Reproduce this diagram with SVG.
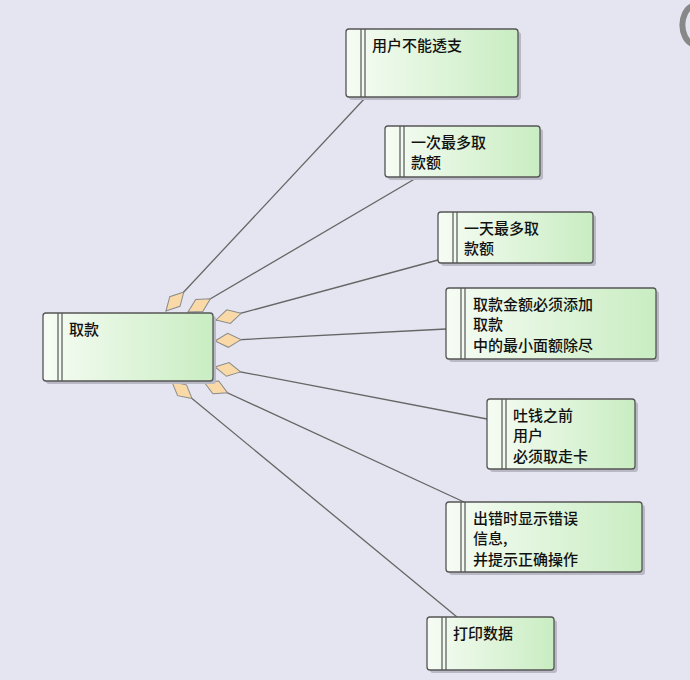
<svg xmlns="http://www.w3.org/2000/svg" width="690" height="680" viewBox="0 0 690 680">
<defs>
<linearGradient id="g" x1="0" y1="0" x2="1" y2="0"><stop offset="0" stop-color="#f6fcf4"/><stop offset="1" stop-color="#c9edc2"/></linearGradient>
<polygon id="dia" points="0,0 13,-7 26,0 13,7" fill="#f9d9a8" stroke="#8a8a8a" stroke-width="1"/>
</defs>
<style>
.b{fill:url(#g);stroke:#555;stroke-width:1.3}
.s{fill:#b8b9c4}
.v{stroke:#555;stroke-width:1.2}
.t{font-family:"Noto Sans CJK SC","Liberation Sans",sans-serif;font-size:15px;font-weight:500;fill:#111}
.c{stroke:#666;stroke-width:1.3;fill:none}
</style>
<rect width="690" height="680" fill="#e4e5f0"/>
<path d="M692,6 A14,20 0 0 0 692,44" fill="none" stroke="#888" stroke-width="6"/>
<g id="connectors">
<line class="c" x1="166" y1="311" x2="366" y2="97"/>
<line class="c" x1="188" y1="312" x2="418" y2="177"/>
<line class="c" x1="216" y1="320" x2="438" y2="260"/>
<line class="c" x1="215" y1="341" x2="446" y2="329"/>
<line class="c" x1="215" y1="367" x2="487" y2="419"/>
<line class="c" x1="204" y1="382" x2="464" y2="502"/>
<line class="c" x1="172" y1="382" x2="457" y2="617"/>
<use href="#dia" transform="translate(166,311) rotate(-46.9)"/>
<use href="#dia" transform="translate(188,312) rotate(-30.4)"/>
<use href="#dia" transform="translate(216,320) rotate(-15)"/>
<use href="#dia" transform="translate(215,341) rotate(-3)"/>
<use href="#dia" transform="translate(215,367) rotate(10.8)"/>
<use href="#dia" transform="translate(204,382) rotate(24.7)"/>
<use href="#dia" transform="translate(172,382) rotate(39.5)"/>
</g>
<g id="n0"><rect class="s" x="46" y="316" width="170" height="68" rx="3"/><rect class="b" x="43" y="313" width="170" height="68" rx="3"/><line class="v" x1="58" y1="313" x2="58" y2="381"/><line class="v" x1="62" y1="313" x2="62" y2="381"/><text class="t" x="69" y="335">取款</text></g>
<g id="n1"><rect class="s" x="349" y="32" width="172" height="68" rx="3"/><rect class="b" x="346" y="29" width="172" height="68" rx="3"/><line class="v" x1="361" y1="29" x2="361" y2="97"/><line class="v" x1="365" y1="29" x2="365" y2="97"/><text class="t" x="372" y="51">用户不能透支</text></g>
<g id="n2"><rect class="s" x="388" y="129" width="155" height="51" rx="3"/><rect class="b" x="385" y="126" width="155" height="51" rx="3"/><line class="v" x1="400" y1="126" x2="400" y2="177"/><line class="v" x1="404" y1="126" x2="404" y2="177"/><text class="t" x="411" y="148">一次最多取</text><text class="t" x="411" y="168">款额</text></g>
<g id="n3"><rect class="s" x="441" y="215" width="155" height="51" rx="3"/><rect class="b" x="438" y="212" width="155" height="51" rx="3"/><line class="v" x1="453" y1="212" x2="453" y2="263"/><line class="v" x1="457" y1="212" x2="457" y2="263"/><text class="t" x="464" y="234">一天最多取</text><text class="t" x="464" y="254">款额</text></g>
<g id="n4"><rect class="s" x="449" y="291" width="210" height="71" rx="3"/><rect class="b" x="446" y="288" width="210" height="71" rx="3"/><line class="v" x1="461" y1="288" x2="461" y2="359"/><line class="v" x1="465" y1="288" x2="465" y2="359"/><text class="t" x="473" y="310">取款金额必须添加</text><text class="t" x="473" y="330">取款</text><text class="t" x="473" y="351">中的最小面额除尽</text></g>
<g id="n5"><rect class="s" x="490" y="402" width="148" height="70" rx="3"/><rect class="b" x="487" y="399" width="148" height="70" rx="3"/><line class="v" x1="502" y1="399" x2="502" y2="469"/><line class="v" x1="506" y1="399" x2="506" y2="469"/><text class="t" x="513" y="421">吐钱之前</text><text class="t" x="513" y="441">用户</text><text class="t" x="513" y="462">必须取走卡</text></g>
<g id="n6"><rect class="s" x="449" y="505" width="196" height="70" rx="3"/><rect class="b" x="446" y="502" width="196" height="70" rx="3"/><line class="v" x1="461" y1="502" x2="461" y2="572"/><line class="v" x1="465" y1="502" x2="465" y2="572"/><text class="t" x="473" y="524">出错时显示错误</text><text class="t" x="473" y="544">信息,</text><text class="t" x="473" y="565">并提示正确操作</text></g>
<g id="n7"><rect class="s" x="430" y="620" width="127" height="53" rx="3"/><rect class="b" x="427" y="617" width="127" height="53" rx="3"/><line class="v" x1="442" y1="617" x2="442" y2="670"/><line class="v" x1="446" y1="617" x2="446" y2="670"/><text class="t" x="453" y="639">打印数据</text></g>
</svg>
